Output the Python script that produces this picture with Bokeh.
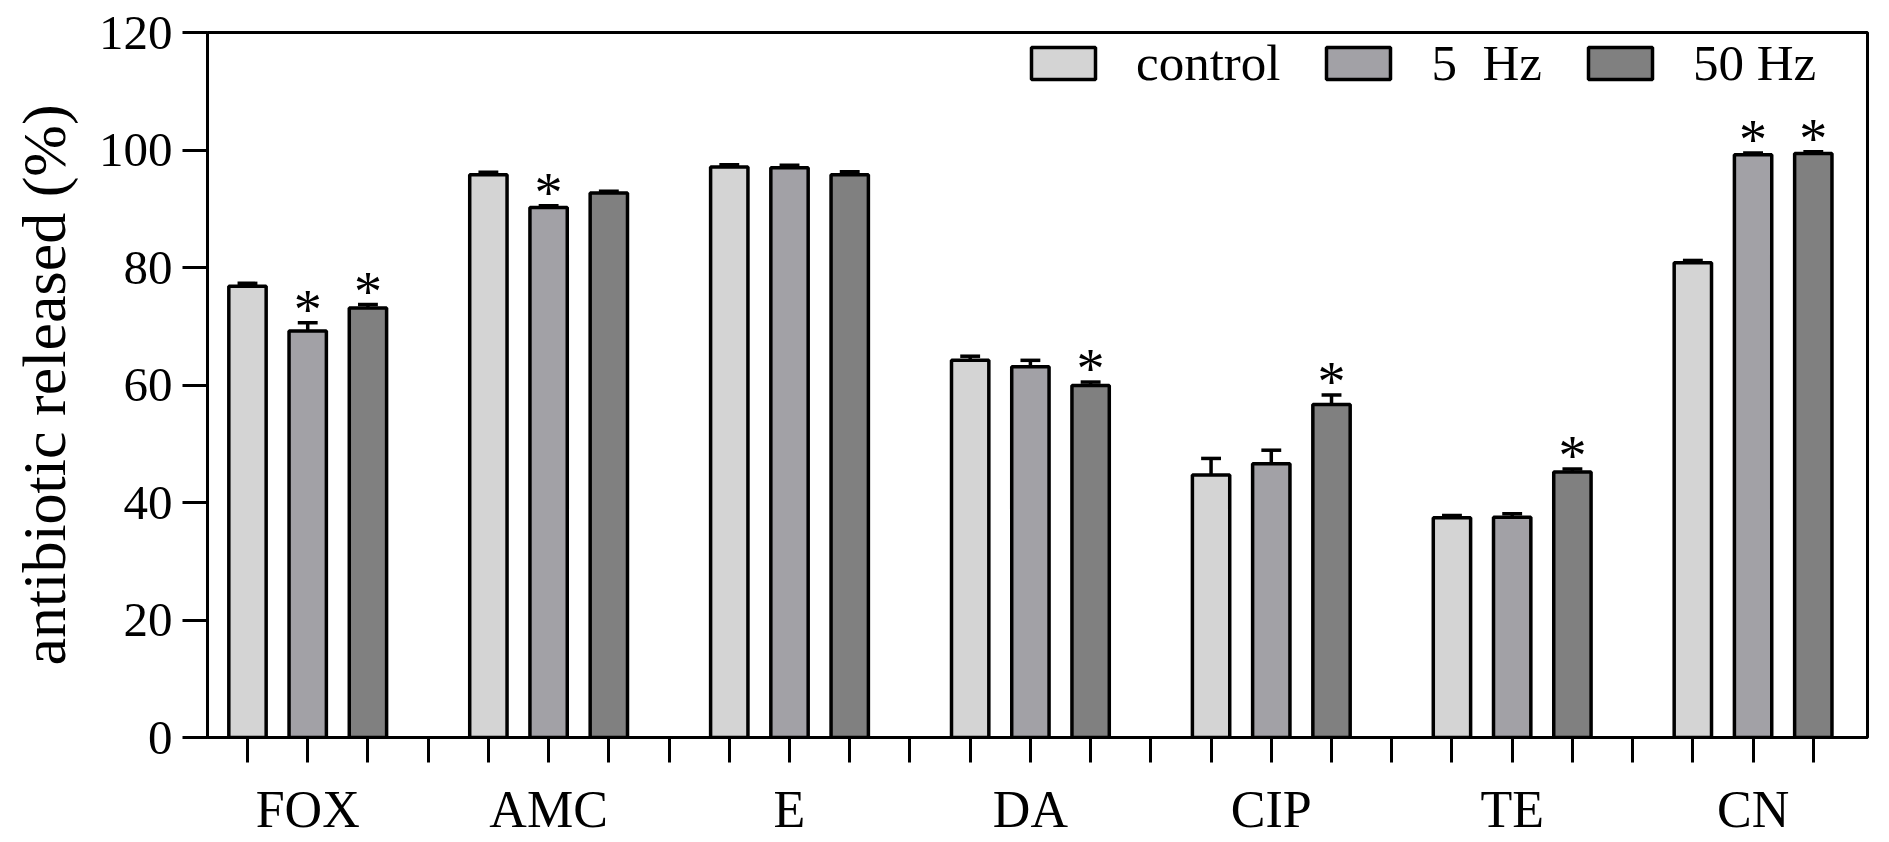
from bokeh.plotting import figure
from bokeh.models import (Range1d, FixedTicker, Legend, LegendItem, ColumnDataSource)
from bokeh.core.properties import value
from bokeh.embed import file_html
from bokeh.resources import INLINE

# ---------------- data ----------------
antibiotics = ["FOX", "AMC", "E", "DA", "CIP", "TE", "CN"]
series_names = ["control", "5  Hz", "50 Hz"]
series_colors = ["#d4d4d4", "#a2a1a6", "#808080"]

control = [76.8, 95.8, 97.1, 64.2, 44.7, 37.4, 80.8]
control_sd = [0.5, 0.4, 0.4, 0.7, 2.8, 0.4, 0.4]
hz5 = [69.2, 90.2, 97.0, 63.1, 46.6, 37.5, 99.2]
hz5_sd = [1.4, 0.3, 0.4, 1.1, 2.3, 0.6, 0.3]
hz50 = [73.1, 92.7, 95.8, 59.9, 56.7, 45.2, 99.4]
hz50_sd = [0.6, 0.3, 0.5, 0.6, 1.6, 0.5, 0.3]

sig_control = [0, 0, 0, 0, 0, 0, 0]
sig_hz5 = [1, 1, 0, 0, 0, 0, 1]
sig_hz50 = [1, 0, 0, 1, 1, 1, 1]

y_ticks = [0, 20, 40, 60, 80, 100, 120]

# ---------------- figure ----------------
FONT = "Liberation Serif"
slots_per_group = 4
n_groups = len(antibiotics)

p = figure(frame_width=1660, frame_height=705,
           min_border_left=207, min_border_right=14,
           min_border_top=32, min_border_bottom=97,
           x_range=Range1d(-0.664, slots_per_group * n_groups - 1.1),
           y_range=Range1d(0, 120),
           output_backend="svg", toolbar_location=None)

p.background_fill_color = "white"
p.border_fill_color = "white"
p.outline_line_color = "black"
p.outline_line_width = 3
p.xgrid.visible = False
p.ygrid.visible = False

all_vals = [control, hz5, hz50]
all_sd = [control_sd, hz5_sd, hz50_sd]
all_sig = [sig_control, sig_hz5, sig_hz50]

renderers = []
cap_half = 0.165
for s, (vals, sds, sig, col) in enumerate(zip(all_vals, all_sd, all_sig, series_colors)):
    xs = [slots_per_group * g + s for g in range(n_groups)]
    upper = [v + d for v, d in zip(vals, sds)]
    src = ColumnDataSource(dict(x=xs, top=vals, upper=upper,
                                cx0=[x - cap_half for x in xs],
                                cx1=[x + cap_half for x in xs]))
    # error bar stem and cap
    p.segment(x0="x", y0="top", x1="x", y1="upper", source=src,
              line_color="black", line_width=3.5)
    p.segment(x0="cx0", y0="upper", x1="cx1", y1="upper", source=src,
              line_color="black", line_width=3.5)
    r = p.vbar(x="x", top="top", bottom=0, width=0.62, source=src,
               fill_color=col, line_color="black", line_width=3.5)
    renderers.append(r)
    # significance asterisks
    sx = [x for x, f in zip(xs, sig) if f]
    sy = [u for u, f in zip(upper, sig) if f]
    if sx:
        p.text(x=sx, y=sy, text=["*"] * len(sx), text_align="center",
               text_baseline="alphabetic", y_offset=-13,
               text_font=value(FONT), text_font_size="56px", text_color="black")

# ---------------- axes ----------------
x_tick_positions = list(range(slots_per_group * n_groups - 1))
overrides = {t: "" for t in x_tick_positions}
for g, name in enumerate(antibiotics):
    overrides[slots_per_group * g + 1] = name

xa = p.xaxis[0]
xa.ticker = FixedTicker(ticks=x_tick_positions)
xa.major_label_overrides = overrides
xa.minor_tick_line_color = None
xa.major_tick_in = 0
xa.major_tick_out = 25
xa.major_tick_line_width = 3
xa.axis_line_width = 3
xa.major_label_standoff = 18
xa.major_label_text_font = FONT
xa.major_label_text_font_size = "52px"
xa.major_label_text_color = "black"

ya = p.yaxis[0]
ya.ticker = FixedTicker(ticks=y_ticks)
ya.minor_tick_line_color = None
ya.major_tick_in = 0
ya.major_tick_out = 25
ya.major_tick_line_width = 3
ya.axis_line_width = 3
ya.major_label_standoff = 10
ya.major_label_text_font = FONT
ya.major_label_text_font_size = "49px"
ya.major_label_text_color = "black"
ya.axis_label = "antibiotic released (%)"
ya.axis_label_text_font = FONT
ya.axis_label_text_font_size = "62px"
ya.axis_label_text_font_style = "normal"
ya.axis_label_text_color = "black"
ya.axis_label_standoff = 18

# ---------------- legend ----------------
legend = Legend(items=[LegendItem(label=n, renderers=[r]) for n, r in zip(series_names, renderers)],
                orientation="horizontal", location=(816, 645),
                glyph_width=80, glyph_height=40, label_standoff=33, spacing=38,
                padding=0, margin=0, border_line_alpha=0, background_fill_alpha=0,
                label_text_font=FONT, label_text_font_size="51px",
                label_text_color="black")
p.add_layout(legend)

open("out.html", "w").write(file_html(p, INLINE))
